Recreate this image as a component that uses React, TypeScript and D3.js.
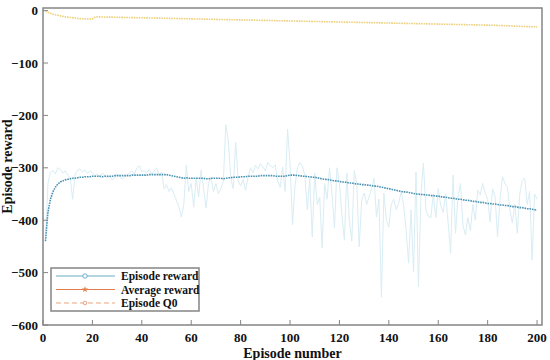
import React from "react";
import * as d3 from "d3";

// episode reward per episode (1..200)
const episodeReward = [
  -440, -330, -308, -305, -312, -300, -303, -310, -306, -314,
  -318, -360, -312, -305, -302, -308, -304, -311, -306, -309,
  -315, -312, -318, -310, -314, -320, -316, -323, -318, -312,
  -316, -322, -318, -313, -310, -306, -312, -300, -296, -308,
  -305, -310, -303, -312, -306, -300, -315, -308, -340, -332,
  -345, -338, -350, -362, -375, -394, -370, -295, -345, -330,
  -375, -320, -355, -304, -340, -377, -330, -318, -345, -330,
  -350, -340, -326, -218, -247, -320, -340, -251, -324, -335,
  -322, -343, -318, -300, -310, -295, -302, -292, -298, -306,
  -290, -296, -300, -294, -325, -337, -299, -345, -226, -290,
  -409, -335, -300, -290, -296, -315, -380, -320, -432, -310,
  -370, -356, -453, -330, -360, -300, -350, -415, -300, -330,
  -390, -438, -310, -400, -440, -305, -330, -451, -362, -348,
  -370, -355, -340, -320, -394, -360, -547, -348, -400, -413,
  -370, -360, -380, -368, -345, -372, -419, -482, -380, -499,
  -308, -527, -350, -291, -380, -393, -395, -350, -395, -340,
  -372, -385, -350, -405, -463, -314, -425, -356, -330, -410,
  -428, -395, -420, -370, -400, -343, -352, -330, -348, -360,
  -403, -340, -355, -432, -360, -317, -330, -337, -380, -405,
  -370, -425, -350, -324, -320, -370, -345, -476, -350, -360,
];

// running average reward
const averageReward = [
  -440, -385, -360, -346, -337, -331, -327, -325, -323, -322,
  -321, -320, -320, -319, -318, -318, -317, -317, -317, -316,
  -316, -316, -316, -317, -316, -316, -316, -316, -315, -315,
  -315, -315, -315, -315, -315, -314, -314, -314, -314, -314,
  -314, -314, -313, -313, -313, -313, -313, -313, -313, -313,
  -314, -315, -316, -317, -318, -319, -320, -319, -320, -320,
  -320, -320, -320, -320, -320, -321, -321, -320, -320, -320,
  -320, -320, -321, -320, -319, -319, -318, -318, -318, -317,
  -317, -317, -316, -316, -316, -316, -316, -315, -315, -315,
  -315, -315, -315, -316, -316, -316, -316, -316, -315, -314,
  -314, -314, -315, -315, -316, -316, -317, -317, -318, -318,
  -319, -320, -321, -322, -322, -323, -324, -325, -325, -326,
  -327, -327, -328, -329, -329, -330, -331, -331, -332, -332,
  -333, -333, -334, -335, -335, -336, -337, -338, -339, -340,
  -341, -342, -343, -344, -345, -346, -346, -347, -348, -349,
  -350, -350, -351, -351, -352, -352, -353, -353, -354, -354,
  -355, -356, -356, -357, -358, -358, -359, -360, -360, -361,
  -362, -362, -363, -364, -364, -365, -366, -366, -367, -368,
  -368, -369, -369, -370, -371, -371, -372, -372, -373, -374,
  -374, -375, -376, -376, -377, -378, -378, -379, -380, -381,
];

// episode Q0
const episodeQ0 = [
  -1, -3, -5, -7, -8, -9, -10, -11, -12, -12.5,
  -13, -13.5, -14, -15, -15, -15.5, -16, -16, -16, -16,
  -12.5, -11.8, -12, -12.1, -12.2, -12.3, -12.4, -12.5, -12.6, -12.7,
  -12.8, -12.9, -13.0, -13.1, -13.2, -13.3, -13.4, -13.5, -13.6, -13.7,
  -13.8, -13.9, -14.0, -14.1, -14.2, -14.3, -14.4, -14.5, -14.6, -14.7,
  -14.8, -14.9, -15.0, -15.1, -15.2, -15.3, -15.4, -15.5, -15.6, -15.7,
  -15.8, -15.9, -16.0, -16.1, -16.2, -16.3, -16.4, -16.5, -16.6, -16.7,
  -16.8, -16.9, -17.0, -17.1, -17.2, -17.3, -17.4, -17.5, -17.6, -17.7,
  -17.8, -17.9, -18.0, -18.1, -18.2, -18.3, -18.4, -18.5, -18.6, -18.7,
  -18.8, -18.9, -19.0, -19.1, -19.2, -19.3, -19.4, -19.5, -19.6, -19.7,
  -19.8, -19.9, -20.0, -20.1, -20.2, -20.3, -20.4, -20.5, -20.6, -20.7,
  -20.8, -20.9, -21.0, -21.1, -21.2, -21.3, -21.4, -21.5, -21.6, -21.7,
  -21.8, -21.9, -22.0, -22.1, -22.2, -22.3, -22.4, -22.5, -22.6, -22.7,
  -22.8, -22.9, -23.0, -23.1, -23.2, -23.3, -23.4, -23.5, -23.6, -23.7,
  -23.8, -23.9, -24.0, -24.1, -24.2, -24.3, -24.4, -24.5, -24.6, -24.7,
  -24.8, -24.9, -25.0, -25.1, -25.2, -25.3, -25.4, -25.5, -25.6, -25.7,
  -25.8, -25.9, -26.0, -26.1, -26.2, -26.3, -26.4, -26.5, -26.6, -26.7,
  -26.8, -26.9, -27.0, -27.1, -27.2, -27.3, -27.4, -27.5, -27.6, -27.7,
  -27.8, -27.9, -28.0, -28.2, -28.4, -28.6, -28.8, -29.0, -29.2, -29.4,
  -29.6, -29.8, -30.0, -30.2, -30.3, -30.5, -30.6, -30.8, -30.9, -31.0,
];

const xTicks = [0, 20, 40, 60, 80, 100, 120, 140, 160, 180, 200];
const yTicks = [0, -100, -200, -300, -400, -500, -600];
const legendItems = ["Episode reward", "Average reward", "Episode Q0"];

const W = 550;
const H = 360;
const margin = { top: 8, right: 8, bottom: 35, left: 43 };
const font = "Liberation Serif, Times New Roman, serif";
const axisGray = "#858585";

export default function App() {
  const x = d3.scaleLinear().domain([0, 202]).range([margin.left, W - margin.right]);
  const y = d3.scaleLinear().domain([-600, 5]).range([H - margin.bottom, margin.top]);

  const line = d3
    .line<number>()
    .x((_, i) => x(i + 1))
    .y((d) => y(d));

  const fmt = (v: number) => (v < 0 ? "\u2212" + Math.abs(v) : String(v));

  const legendY = [276, 289.5, 303];
  const legendColors = ["#6aaec8", "#e37e4c", "#eaa582"];

  return (
    <svg
      width={W}
      height={H}
      style={{ position: "absolute", left: 0, top: 0, background: "#fff", fontFamily: font }}
    >
      <rect x={0} y={0} width={W} height={H} fill="#fff" />

      {/* series */}
      <path d={line(episodeReward) ?? ""} fill="none" stroke="#d9edf4" strokeWidth={1} />
      <path
        d={line(averageReward) ?? ""}
        fill="none"
        stroke="#4a93b3"
        strokeWidth={1.6}
        strokeDasharray="1.6,0.9"
      />
      <path
        d={line(episodeQ0) ?? ""}
        fill="none"
        stroke="#ecd07c"
        strokeWidth={1.6}
        strokeDasharray="1.6,0.9"
      />

      {/* frame */}
      <rect
        x={x(0)}
        y={margin.top}
        width={x(202) - x(0)}
        height={y(-600) - margin.top}
        fill="none"
        stroke={axisGray}
        strokeWidth={1.5}
      />

      {/* x ticks */}
      {xTicks.map((t) => (
        <g key={"x" + t}>
          <line x1={x(t)} x2={x(t)} y1={y(-600)} y2={y(-600) - 5} stroke={axisGray} />
          <text
            x={x(t)}
            y={y(-600) + 17}
            textAnchor="middle"
            fontSize={13}
            fontWeight="bold"
            fill="#111"
          >
            {t}
          </text>
        </g>
      ))}

      {/* y ticks */}
      {yTicks.map((t) => (
        <g key={"y" + t}>
          <line x1={x(0)} x2={x(0) + 5} y1={y(t)} y2={y(t)} stroke={axisGray} />
          <text
            x={x(0) - 5}
            y={y(t)}
            dy="0.35em"
            textAnchor="end"
            fontSize={13}
            fontWeight="bold"
            fill="#111"
          >
            {fmt(t)}
          </text>
        </g>
      ))}

      {/* axis titles */}
      <text
        x={(x(0) + x(202)) / 2}
        y={358}
        textAnchor="middle"
        fontSize={14}
        fontWeight="bold"
        fill="#111"
      >
        Episode number
      </text>
      <text
        transform={`translate(12,${(y(5) + y(-600)) / 2}) rotate(-90)`}
        textAnchor="middle"
        fontSize={14}
        fontWeight="bold"
        fill="#111"
      >
        Episode reward
      </text>

      {/* legend */}
      <g>
        <rect x={51} y={268} width={148} height={43} fill="#fff" stroke={axisGray} strokeWidth={1.5} />
        {legendItems.map((name, i) => {
          const ly = legendY[i];
          const color = legendColors[i];
          return (
            <g key={name}>
              <line
                x1={56}
                x2={115}
                y1={ly}
                y2={ly}
                stroke={color}
                strokeWidth={1.2}
                strokeDasharray={i === 2 ? "5,3" : undefined}
              />
              {i === 0 && <circle cx={85} cy={ly} r={2.2} fill="#fff" stroke={color} strokeWidth={1} />}
              {i === 1 && (
                <path
                  d={d3.symbol(d3.symbolStar, 14)() ?? ""}
                  transform={`translate(85,${ly})`}
                  fill={color}
                />
              )}
              {i === 2 && <circle cx={85} cy={ly} r={1.8} fill="#fff" stroke={color} strokeWidth={1} />}
              <text x={121} y={ly} dy="0.35em" fontSize={11.5} fontWeight="bold" fill="#111">
                {name}
              </text>
            </g>
          );
        })}
      </g>
    </svg>
  );
}
